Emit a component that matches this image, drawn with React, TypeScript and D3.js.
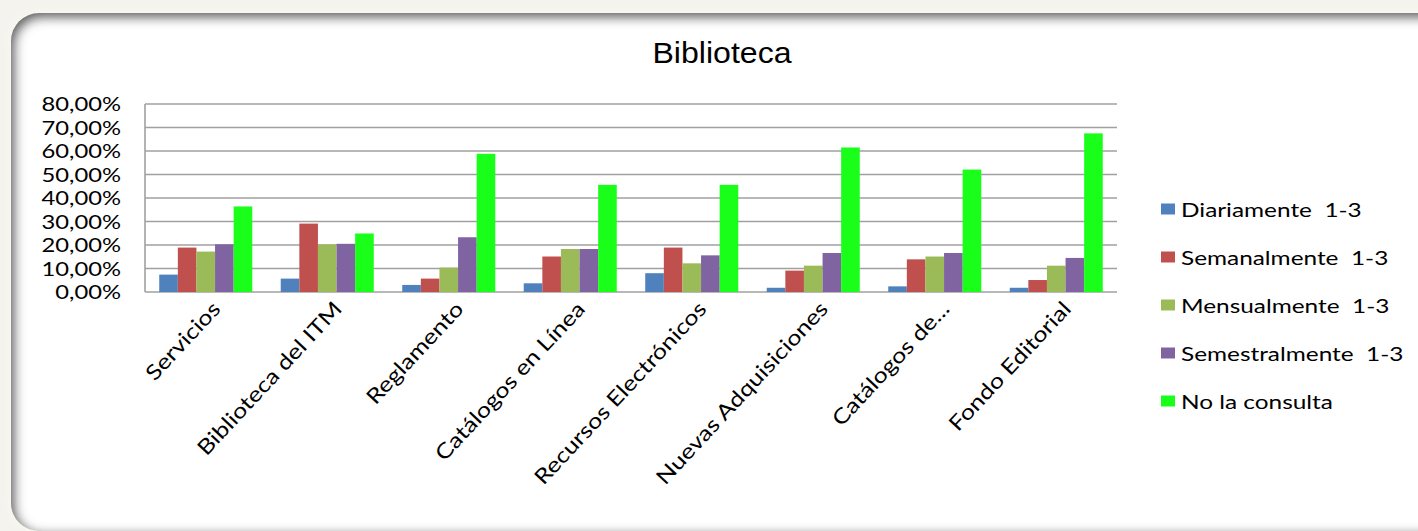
import React from "react";
import * as d3 from "d3";

const categories = [
  "Servicios",
  "Biblioteca del ITM",
  "Reglamento",
  "Catálogos en Línea",
  "Recursos Electrónicos",
  "Nuevas Adquisiciones",
  "Catálogos de...",
  "Fondo Editorial",
];
const seriesNames = [
  "Diariamente  1-3",
  "Semanalmente  1-3",
  "Mensualmente  1-3",
  "Semestralmente  1-3",
  "No la consulta",
];
const seriesColors = ["#4f81bd", "#c0504d", "#9bbb59", "#8064a2", "#19ff19"];
const diariamente = [7.4, 5.7, 3.0, 3.7, 8.0, 1.8, 2.4, 1.8];
const semanalmente = [18.9, 29.1, 5.7, 15.1, 18.9, 9.1, 13.9, 5.1];
const mensualmente = [17.2, 20.2, 10.4, 18.3, 12.2, 11.2, 15.1, 11.2];
const semestralmente = [20.3, 20.5, 23.3, 18.3, 15.6, 16.6, 16.6, 14.5];
const noConsulta = [36.4, 24.9, 58.8, 45.6, 45.6, 61.5, 52.1, 67.5];
const seriesValues = [diariamente, semanalmente, mensualmente, semestralmente, noConsulta];
const yTicks = [0, 10, 20, 30, 40, 50, 60, 70, 80];
const title = "Biblioteca";

const W = 1418;
const H = 531;
const SX = 1.25;
const FONT = "Lato, 'Open Sans', sans-serif";

export default function App() {
  const plot = { left: 145, right: 1117, top: 104, bottom: 292 };
  const y = d3.scaleLinear().domain([0, 80]).range([plot.bottom, plot.top]);
  const x = d3.scaleBand<string>().domain(categories).range([plot.left, plot.right]).padding(0);
  const xs = d3
    .scaleBand<number>()
    .domain(d3.range(seriesNames.length))
    .range([0, x.bandwidth()])
    .paddingInner(0)
    .paddingOuter(0.765);
  const fmt = (v: number) => v.toFixed(2).replace(".", ",") + "%";

  const frame = { x: 11, y: 13, w: 1460, h: 518, r: 28 };
  const framePath = `M${frame.x + frame.r},${frame.y} H${frame.x + frame.w - frame.r} A${frame.r},${frame.r} 0 0 1 ${frame.x + frame.w},${frame.y + frame.r} V${frame.y + frame.h - frame.r} A${frame.r},${frame.r} 0 0 1 ${frame.x + frame.w - frame.r},${frame.y + frame.h} H${frame.x + frame.r} A${frame.r},${frame.r} 0 0 1 ${frame.x},${frame.y + frame.h - frame.r} V${frame.y + frame.r} A${frame.r},${frame.r} 0 0 1 ${frame.x + frame.r},${frame.y} Z`;

  return (
    <div style={{ position: "absolute", left: 0, top: 0, width: W, height: H }}>
      <svg width={W} height={H} style={{ display: "block" }}>
        <defs>
          <clipPath id="frameClip">
            <path d={framePath} />
          </clipPath>
          <filter id="blurIn" x="-10%" y="-10%" width="120%" height="120%">
            <feGaussianBlur stdDeviation="6" />
          </filter>
          <filter id="glow" x="-10%" y="-10%" width="120%" height="120%">
            <feGaussianBlur stdDeviation="4" />
          </filter>
        </defs>
        <rect x={0} y={0} width={W} height={H} fill="#f4f3ed" />
        <path d={framePath} fill="#ffffff" opacity={0.6} filter="url(#glow)" />
        <path d={framePath} fill="#ffffff" />
        <g clipPath="url(#frameClip)">
          <path
            d={`M-100,-100 H${W + 200} V${H + 200} H-100 Z ` + framePath}
            fillRule="evenodd"
            fill="#5a5a5a"
            filter="url(#blurIn)"
            transform="translate(3,4)"
          />
        </g>

        <text
          transform={`translate(722,63) scale(1.07,1)`}
          textAnchor="middle"
          fontFamily="'Liberation Sans', Arial, sans-serif"
          fontSize={30}
          fill="#000"
        >
          {title}
        </text>

        {yTicks.map((t) => (
          <line
            key={"g" + t}
            x1={plot.left}
            x2={plot.right}
            y1={y(t)}
            y2={y(t)}
            stroke="#a0a0a0"
            strokeWidth={1.6}
          />
        ))}
        <line x1={plot.left} x2={plot.left} y1={plot.top} y2={plot.bottom} stroke="#a0a0a0" strokeWidth={1.6} />

        {categories.map((c, ci) => (
          <g key={c} transform={`translate(${x(c)},0)`}>
            {seriesValues.map((vals, si) => (
              <rect
                key={si}
                x={xs(si)}
                y={y(vals[ci])}
                width={xs.bandwidth()}
                height={y(0) - y(vals[ci])}
                fill={seriesColors[si]}
              />
            ))}
          </g>
        ))}

        {yTicks.map((t) => (
          <text
            key={"t" + t}
            transform={`translate(121,${y(t)}) scale(${SX},1)`}
            textAnchor="end"
            dominantBaseline="central"
            fontFamily={FONT}
            fontSize={19}
            fill="#000"
          >
            {fmt(t)}
          </text>
        ))}

        {categories.map((c) => (
          <text
            key={"c" + c}
            transform={`translate(${(x(c) as number) + x.bandwidth() / 2 + 16},310) rotate(-47) scale(1.2,1)`}
            textAnchor="end"
            fontFamily={FONT}
            fontSize={21}
            fill="#000"
          >
            {c}
          </text>
        ))}

        {seriesNames.map((s, i) => (
          <g key={s} transform={`translate(1161,${209 + i * 48})`}>
            <rect x={0} y={-5.5} width={14} height={11} fill={seriesColors[i]} />
            <text
              transform={`translate(20,0) scale(${SX},1)`}
              dominantBaseline="central"
              fontFamily={FONT}
              fontSize={19.5}
              fill="#000"
              style={{ whiteSpace: "pre" }}
            >
              {s}
            </text>
          </g>
        ))}
      </svg>
    </div>
  );
}
